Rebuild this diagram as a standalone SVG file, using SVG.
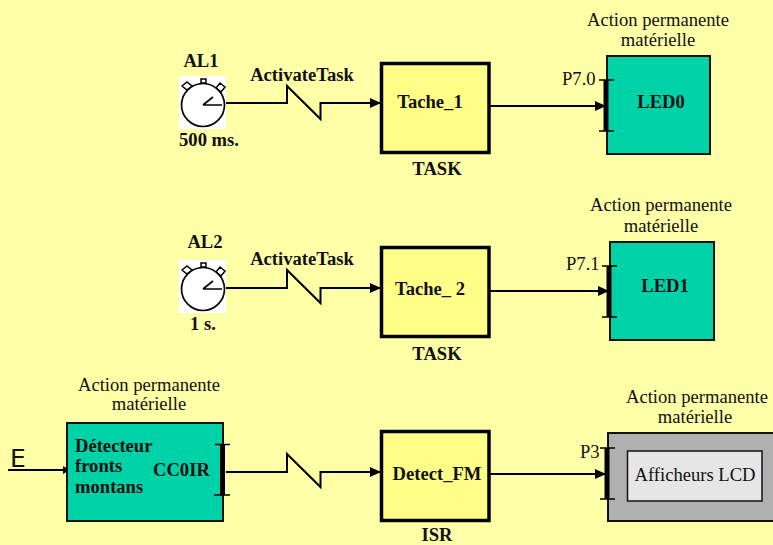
<svg xmlns="http://www.w3.org/2000/svg" width="773" height="545" viewBox="0 0 773 545">
<style>
text{font-family:"Liberation Serif","Times New Roman",serif;font-size:18.600px;fill:#111}
.b{font-weight:bold}
.m{text-anchor:middle}
.task{fill:#FFFF88;stroke:#000;stroke-width:3.5}
.teal{fill:#00D2A8;stroke:#111;stroke-width:2}
.w{fill:none;stroke:#000;stroke-width:2}
.bar{fill:none;stroke:#000;stroke-width:5}
.tick{fill:none;stroke:#000;stroke-width:1.5}
</style>
<defs>
<marker id="a" markerUnits="userSpaceOnUse" markerWidth="12" markerHeight="10" refX="10" refY="5" orient="auto"><path d="M0 0L11 5L0 10Z" fill="#000"/></marker>
<marker id="s" markerUnits="userSpaceOnUse" markerWidth="8" markerHeight="8" refX="6" refY="4" orient="auto"><path d="M0 0L7 4L0 8Z" fill="#000"/></marker>
<g id="clock">
<rect x="0" y="0" width="47" height="53" fill="#fff"/>
<rect x="22" y="3" width="5" height="4" class="tick"/>
<path d="M3 10L8 6L13 10L8 14Z M37 12L41 7L46 11L42 16Z" fill="#fff" stroke="#000" stroke-width="1.5"/>
<circle cx="24" cy="29" r="21.5" fill="#fff" stroke="#000" stroke-width="1.7"/>
<path d="M24 29H43M24 29L34 21" fill="none" stroke="#000" stroke-width="1.7"/>
</g>
</defs>
<rect width="773" height="545" fill="#FFFFA8"/>
<g id="connectors">
<path class="w" d="M226 103H287V86L320.500 119V103H380" marker-end="url(#a)"/>
<path class="w" d="M489 106H605" marker-end="url(#a)"/>
<path class="w" d="M226 288H287V270L320.500 303V288H380" marker-end="url(#a)"/>
<path class="w" d="M489 291H608" marker-end="url(#a)"/>
<path class="w" d="M8 470H69" marker-end="url(#s)"/>
<path class="w" d="M226 472H287V454L320.500 487V472H380" marker-end="url(#a)"/>
<path class="w" d="M489 474H605" marker-end="url(#a)"/>
</g>
<g id="al1"><use href="#clock" x="179" y="76"/><text class="b m" x="201" y="67">AL1</text><text class="b m" x="209" y="146">500 ms.</text></g>
<g id="al2"><use href="#clock" x="179" y="260"/><text class="b m" x="205" y="248">AL2</text><text class="b m" x="203" y="330">1 s.</text></g>
<text class="b m" x="302" y="81">ActivateTask</text>
<text class="b m" x="302" y="265">ActivateTask</text>
<g id="tache1"><rect class="task" x="381.500" y="63.500" width="107.500" height="89"/><text class="b m" x="430" y="108">Tache_1</text><text class="b m" x="437" y="175">TASK</text></g>
<g id="tache2"><rect class="task" x="381.500" y="247.500" width="107.500" height="89"/><text class="b m" x="430" y="295">Tache_ 2</text><text class="b m" x="437" y="360">TASK</text></g>
<g id="detect"><rect class="task" x="381.500" y="431.500" width="107.500" height="89"/><text class="b m" x="437" y="480">Detect_FM</text><text class="b m" x="437" y="541">ISR</text></g>
<g id="led0"><rect class="teal" x="607" y="56" width="103" height="98"/><path class="bar" d="M606 80V131"/><path class="tick" d="M599 80H614M599 131H614"/><text class="b m" x="661" y="108">LED0</text><text x="562" y="85">P7.0</text><text class="m" x="658" y="26">Action permanente</text><text class="m" x="658" y="46">matérielle</text></g>
<g id="led1"><rect class="teal" x="610" y="242" width="104" height="98"/><path class="bar" d="M609 266V317"/><path class="tick" d="M602 266H617M602 317H617"/><text class="b m" x="665" y="292">LED1</text><text x="566" y="270">P7.1</text><text class="m" x="661" y="211">Action permanente</text><text class="m" x="661" y="232">matérielle</text></g>
<g id="detecteur"><rect class="teal" x="67" y="423" width="156" height="98"/><path class="bar" d="M222.500 445V495"/><path class="tick" d="M215 444.500H230M214 495H230"/><text class="b" x="75" y="452">Détecteur</text><text class="b" x="75" y="472">fronts</text><text class="b" x="75" y="493">montans</text><text class="b" x="153" y="476">CC0IR</text><text class="m" x="149" y="391">Action permanente</text><text class="m" x="149" y="410">matérielle</text></g>
<text x="10" y="467" style="font-family:'DejaVu Sans',sans-serif;font-size:25px">E</text>
<g id="lcd"><rect x="608" y="433" width="167" height="88" fill="#B0B0B0" stroke="#111" stroke-width="2"/><rect x="627.500" y="451" width="134.500" height="50" fill="#E6E6E6" stroke="#111" stroke-width="1.500"/><path class="bar" d="M607 448V499"/><path class="tick" d="M600 448H615M600 499H615"/><text class="m" x="695" y="481">Afficheurs LCD</text><text x="580" y="458">P3</text><text class="m" x="697" y="403">Action permanente</text><text class="m" x="695" y="423">matérielle</text></g>
</svg>
